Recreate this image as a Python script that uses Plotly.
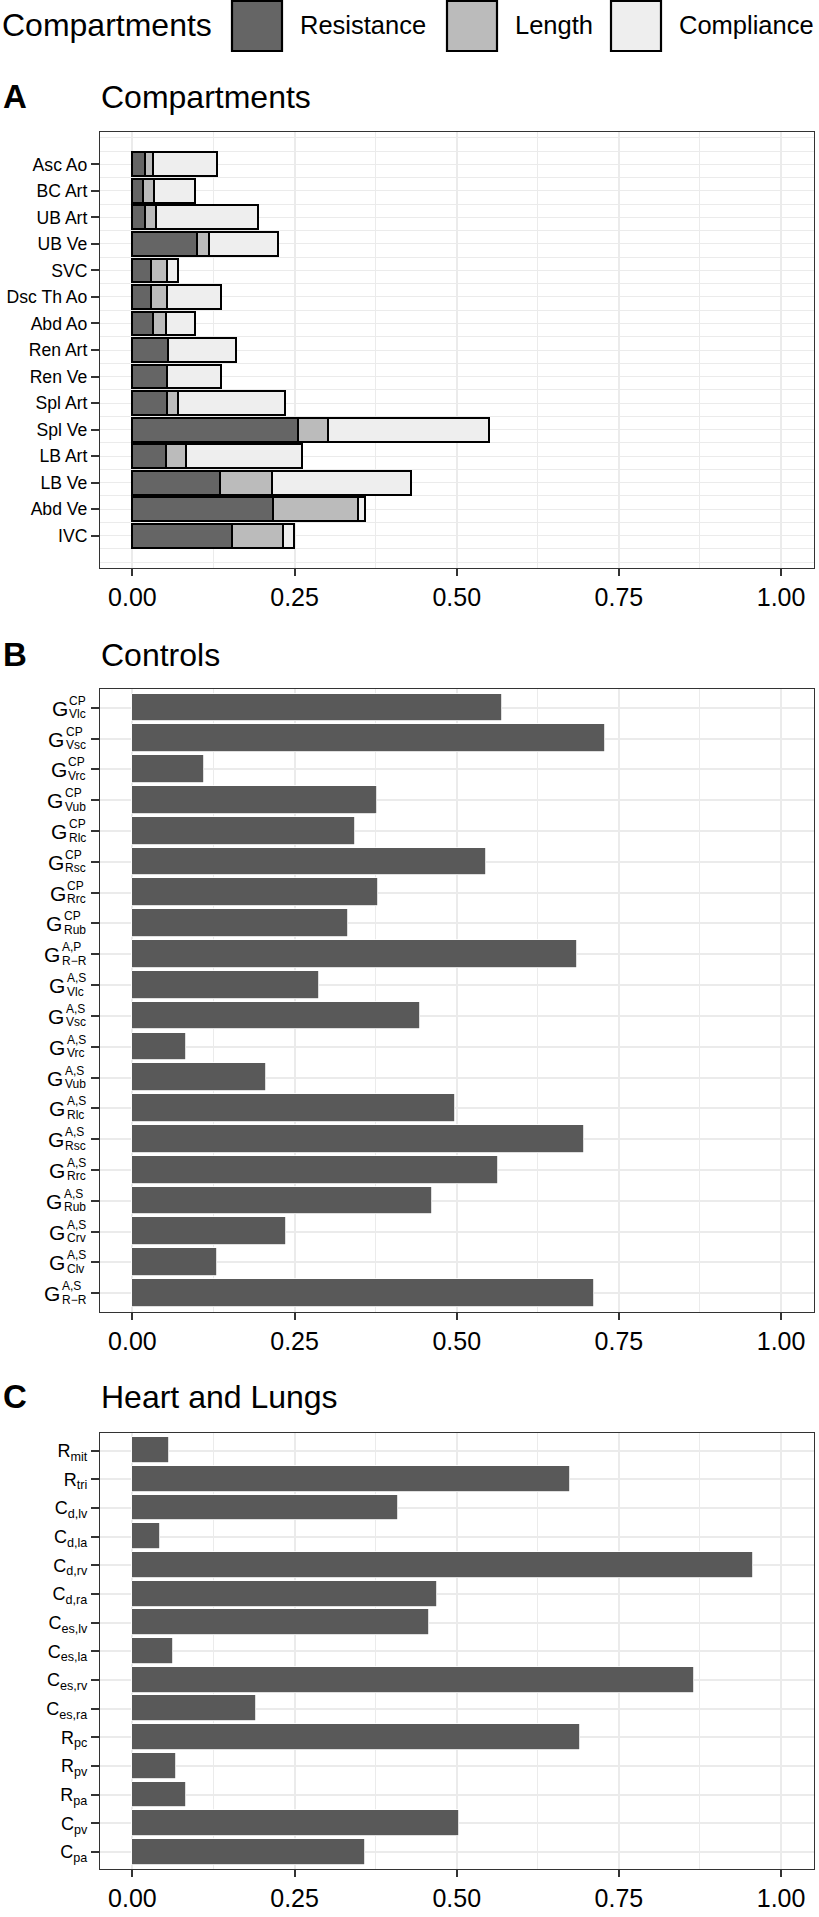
import plotly.graph_objects as go

# ---------------- data ----------------
compartments = ["Asc Ao", "BC Art", "UB Art", "UB Ve", "SVC", "Dsc Th Ao", "Abd Ao",
                "Ren Art", "Ren Ve", "Spl Art", "Spl Ve", "LB Art", "LB Ve", "Abd Ve", "IVC"]
resistance = [0.020, 0.016, 0.020, 0.099, 0.0285, 0.028, 0.032, 0.055, 0.054, 0.054,
              0.255, 0.052, 0.135, 0.217, 0.154]
length = [0.011, 0.017, 0.017, 0.019, 0.025, 0.025, 0.020, 0.0, 0.0, 0.017,
          0.046, 0.030, 0.080, 0.131, 0.078]
compliance = [0.100, 0.064, 0.156, 0.107, 0.016, 0.083, 0.045, 0.105, 0.082, 0.164,
              0.249, 0.179, 0.215, 0.010, 0.017]

controls_sup = ["CP"] * 8 + ["A,P"] + ["A,S"] * 11
controls_sub = ["Vlc", "Vsc", "Vrc", "Vub", "Rlc", "Rsc", "Rrc", "Rub", "R\u2212R",
                "Vlc", "Vsc", "Vrc", "Vub", "Rlc", "Rsc", "Rrc", "Rub", "Crv", "Clv", "R\u2212R"]
controls_values = [0.570, 0.729, 0.110, 0.377, 0.343, 0.545, 0.379, 0.332, 0.685,
                   0.287, 0.443, 0.082, 0.206, 0.498, 0.696, 0.564, 0.462, 0.236, 0.130, 0.711]

heart_base = ["R", "R", "C", "C", "C", "C", "C", "C", "C", "C", "R", "R", "R", "C", "C"]
heart_sub = ["mit", "tri", "d,lv", "d,la", "d,rv", "d,ra", "es,lv", "es,la", "es,rv", "es,ra",
             "pc", "pv", "pa", "pv", "pa"]
heart_values = [0.057, 0.674, 0.410, 0.043, 0.957, 0.470, 0.457, 0.062, 0.866, 0.191,
                0.690, 0.067, 0.082, 0.504, 0.359]

legend_labels = ["Resistance", "Length", "Compliance"]
x_ticks = [0, 0.25, 0.5, 0.75, 1.0]

# ---------------- style ----------------
W, H = 819, 1917
FONT = "Liberation Sans"
COLS = ["#656565", "#BBBBBB", "#EEEEEE"]
BAR = "#595959"
GRID = "#EBEBEB"
AXC = "#333333"


def px(x):
    return x / W


def py(y):
    return 1 - y / H


XDOM = [px(100), px(813.5)]
DOM_A = [py(568), py(132)]
DOM_B = [py(1311.7), py(689.3)]
DOM_C = [py(1869.3), py(1433.3)]

fig = go.Figure()

# Panel A stacked bars
idx = list(range(len(compartments)))
for vals, col, name in zip([resistance, length, compliance], COLS, legend_labels):
    fig.add_trace(go.Bar(y=idx, x=vals, orientation="h", width=0.9, name=name,
                         marker=dict(color=col, line=dict(color="black", width=2)),
                         xaxis="x", yaxis="y", showlegend=False))

# Panel B
ckeys = [f"{a}|{b}" for a, b in zip(controls_sup, controls_sub)]
fig.add_trace(go.Bar(y=ckeys, x=controls_values, orientation="h", width=0.9,
                     marker=dict(color=BAR, line=dict(color="white", width=0.8)),
                     xaxis="x2", yaxis="y2", showlegend=False))

# Panel C
hkeys = [f"{a}_{b}" for a, b in zip(heart_base, heart_sub)]
htext = [f"{a}<sub>{b}</sub>" for a, b in zip(heart_base, heart_sub)]
fig.add_trace(go.Bar(y=hkeys, x=heart_values, orientation="h", width=0.9,
                     marker=dict(color=BAR, line=dict(color="white", width=0.8)),
                     xaxis="x3", yaxis="y3", showlegend=False))


def xax(anchor):
    return dict(domain=XDOM, anchor=anchor, range=[-0.05, 1.05],
                tickmode="array", tickvals=x_ticks, ticktext=[f"{v:.2f}" for v in x_ticks],
                ticks="outside", ticklen=7, tickwidth=2, tickcolor=AXC,
                showline=True, mirror=True, linecolor=AXC, linewidth=1.2,
                showgrid=True, gridcolor=GRID, gridwidth=1.8, zeroline=False,
                minor=dict(tickmode="linear", tick0=0, dtick=0.125, showgrid=True,
                           gridcolor=GRID, gridwidth=1.0),
                tickfont=dict(size=25, color="black", family=FONT), fixedrange=True)


def ybase(domain, anchor):
    return dict(domain=domain, anchor=anchor, ticks="outside", ticklen=8, tickwidth=2,
                tickcolor=AXC, showline=True, mirror=True, linecolor=AXC, linewidth=1.2,
                showgrid=True, gridcolor=GRID, gridwidth=1.8, zeroline=False,
                fixedrange=True)


ya = ybase(DOM_A, "x")
ya.update(type="linear", range=[15.22, -1.22], tickmode="array", tickvals=idx,
          ticktext=compartments, gridwidth=1.4,
          minor=dict(tickmode="linear", tick0=-1, dtick=0.5, showgrid=True,
                     gridcolor=GRID, gridwidth=1.2),
          tickfont=dict(size=17.6, color="black", family=FONT))

yb = ybase(DOM_B, "x2")
yb.update(type="category", range=[len(ckeys) - 1 + 0.6, -0.6], tickmode="array",
          tickvals=ckeys, showticklabels=False)

yc = ybase(DOM_C, "x3")
yc.update(type="category", range=[len(hkeys) - 1 + 0.6, -0.6], tickmode="array",
          tickvals=hkeys, ticktext=htext,
          tickfont=dict(size=18, color="black", family=FONT))

annotations = []
# panel tags and titles
for tag, title, yc_ in [("A", "Compartments", 96.5), ("B", "Controls", 654.5),
                        ("C", "Heart and Lungs", 1396.5)]:
    annotations.append(dict(text=f"<b>{tag}</b>", xref="paper", yref="paper", x=px(1),
                            y=py(yc_), xanchor="left", yanchor="middle", showarrow=False,
                            font=dict(size=33, color="black", family=FONT)))
    annotations.append(dict(text=title, xref="paper", yref="paper", x=px(99),
                            y=py(yc_), xanchor="left", yanchor="middle", showarrow=False,
                            font=dict(size=32, color="black", family=FONT)))

# Panel B tick labels: G with stacked super/subscripts
AW = {'A': 667, 'C': 722, 'P': 667, 'R': 722, 'S': 667, 'V': 667, ',': 278, 'l': 222,
      'c': 500, 's': 500, 'r': 333, 'u': 556, 'b': 556, 'v': 500, '\u2212': 584}


def tw(s, size):
    return sum(AW.get(ch, 556) for ch in s) / 1000 * size


SS = 12
for key, sup, sub in zip(ckeys, controls_sup, controls_sub):
    w = max(tw(sup, SS), tw(sub, SS))
    left = 85 - w
    annotations.append(dict(text="G", xref="paper", yref="y2", x=px(left + 0.5), y=key,
                            xanchor="right", yanchor="middle", showarrow=False, borderpad=0,
                            yshift=-0.5, font=dict(size=21, color="black", family=FONT)))
    annotations.append(dict(text=sup, xref="paper", yref="y2", x=px(left), y=key,
                            xanchor="left", yanchor="middle", showarrow=False, borderpad=0,
                            yshift=7, font=dict(size=SS, color="black", family=FONT)))
    annotations.append(dict(text=sub, xref="paper", yref="y2", x=px(left), y=key,
                            xanchor="left", yanchor="middle", showarrow=False, borderpad=0,
                            yshift=-6.5, font=dict(size=SS, color="black", family=FONT)))

# Legend (drawn manually at top)
shapes = []
annotations.append(dict(text="Compartments", xref="paper", yref="paper", x=px(0), y=py(25),
                        xanchor="left", yanchor="middle", showarrow=False,
                        font=dict(size=32, color="black", family=FONT)))
key_x = [232, 447, 611]
for kx, col, lab in zip(key_x, COLS, legend_labels):
    shapes.append(dict(type="rect", xref="paper", yref="paper", x0=px(kx), x1=px(kx + 50),
                       y0=py(51), y1=py(1), fillcolor=col, line=dict(color="black", width=2.2),
                       layer="above"))
    annotations.append(dict(text=lab, xref="paper", yref="paper", x=px(kx + 66), y=py(25),
                            xanchor="left", yanchor="middle", showarrow=False,
                            font=dict(size=25.5, color="black", family=FONT)))

fig.update_layout(
    width=W, height=H, margin=dict(l=0, r=0, t=0, b=0, pad=0),
    paper_bgcolor="white", plot_bgcolor="white", barmode="stack", bargap=0,
    font=dict(family=FONT, color="black"), showlegend=False, hovermode=False,
    xaxis=xax("y"), xaxis2=xax("y2"), xaxis3=xax("y3"),
    yaxis=ya, yaxis2=yb, yaxis3=yc,
    annotations=annotations, shapes=shapes,
)

fig.write_html("out.html", config={"displayModeBar": False},
               post_script="document.body.style.margin='0';document.body.style.padding='0';")
